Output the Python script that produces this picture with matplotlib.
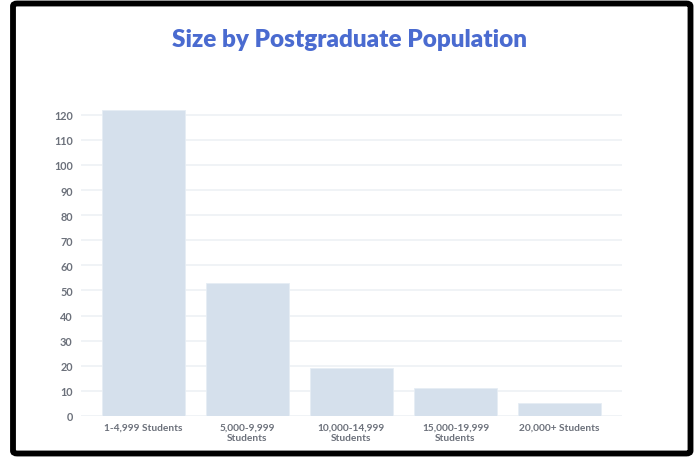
import matplotlib
matplotlib.use("Agg")
import matplotlib.pyplot as plt
from matplotlib.patches import FancyBboxPatch

# ── Data ──────────────────────────────────────────────────────────────────────
categories = ["1-4,999 Students", "5,000-9,999\nStudents", "10,000-14,999\nStudents",
              "15,000-19,999\nStudents", "20,000+ Students"]
counts = [122, 53, 19, 11, 5]
yticks = list(range(0, 121, 10))

BAR = "#d5e0ec"
GRID = "#edf1f5"
TEXT = "#6c717b"
TITLE = "#4a6bd0"

plt.rcParams['font.family'] = ['Lato', 'DejaVu Sans']

fig = plt.figure(figsize=(6.99, 4.60), dpi=100)
fig.patch.set_facecolor("white")

# outer black frame
frame = FancyBboxPatch((13 / 699, 5.5 / 460), 677.5 / 699, 450 / 460,
                       boxstyle="round,pad=0,rounding_size=0.006",
                       transform=fig.transFigure, fill=False,
                       ec="black", lw=4.2, zorder=10)
fig.patches.append(frame)

ax = fig.add_axes([81 / 699, 43 / 460, 541 / 699, 123 * 2.511 / 460])
ax.bar(range(len(counts)), counts, width=0.8, color=BAR,
       edgecolor="#e6edf4", lw=0.6, zorder=3)

ax.set_xlim(-0.6, 4.6)
ax.set_ylim(0, 123)
ax.set_yticks(yticks)
ax.set_xticks(range(len(categories)))
ax.set_xticklabels(categories, fontsize=7.3, fontweight='bold', color=TEXT,
                   linespacing=1.2)
for lbl in ax.get_yticklabels():
    lbl.set_fontsize(7.8)
    lbl.set_fontweight('bold')
    lbl.set_color(TEXT)
ax.tick_params(axis='both', length=0)
ax.tick_params(axis='y', pad=6)
ax.tick_params(axis='x', pad=5)
ax.grid(True, axis='y', color=GRID, lw=1.2, zorder=0)
ax.set_axisbelow(True)
for s in ax.spines.values():
    s.set_visible(False)

fig.text(0.5, 1 - 40 / 460, "Size by Postgraduate Population",
         ha='center', va='center', fontsize=17.5, fontweight='heavy',
         color=TITLE)

fig.savefig("out.png", dpi=100)
